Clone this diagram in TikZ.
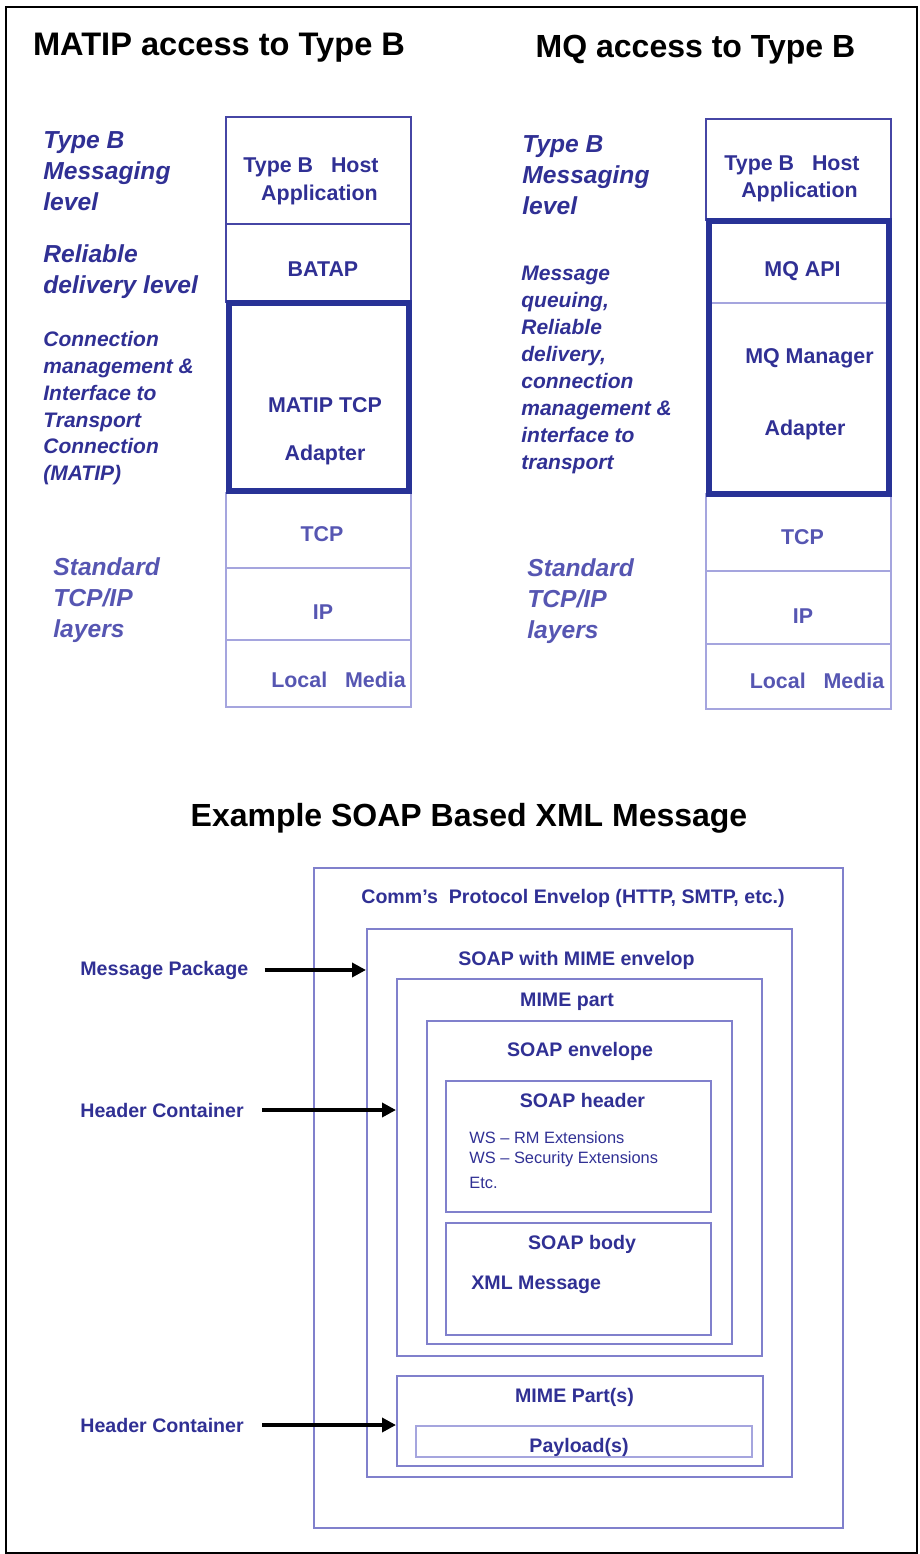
\documentclass[tikz,border=0pt]{standalone}
\usepackage{fontspec}
\setmainfont{Liberation Sans}
\usetikzlibrary{positioning,fit,arrows.meta}

\definecolor{inkblue}{RGB}{48,48,148}
\definecolor{paleblue}{RGB}{86,86,178}
\definecolor{midline}{RGB}{70,70,165}
\definecolor{rule}{RGB}{128,128,204}
\definecolor{faint}{RGB}{165,165,222}
\definecolor{deepblue}{RGB}{40,50,150}

\begin{document}
\begin{tikzpicture}[x=0.5pt, y=-0.5pt,
  heading/.style={font=\fontsize{16}{19}\selectfont\bfseries, anchor=base, inner sep=0pt},
  tag/.style={font=\fontsize{12.3}{15.5}\selectfont\bfseries\itshape, text=inkblue,
    align=left, anchor=north west, inner sep=0pt},
  smalltag/.style={tag, font=\fontsize{10.5}{13.4}\selectfont\bfseries\itshape},
  stdtag/.style={tag, text=paleblue},
  upper/.style={draw=midline, line width=1pt, inner sep=0pt},
  lower/.style={draw=faint, line width=0.8pt, inner sep=0pt},
  thick/.style={draw=deepblue, line width=3pt, inner sep=0pt},
  cell/.style={font=\fontsize{10.7}{12.8}\selectfont\bfseries, text=inkblue,
    anchor=base, inner sep=0pt},
  lowcell/.style={cell, text=paleblue},
  env/.style={draw=rule, line width=1pt, inner sep=0pt},
  envtxt/.style={font=\fontsize{9.8}{11.8}\selectfont\bfseries, text=inkblue,
    anchor=base, inner sep=0pt},
  note/.style={font=\fontsize{8.2}{10}\selectfont, text=inkblue, anchor=base west, inner sep=0pt},
  pointer/.style={envtxt, anchor=base west},
  arr/.style={-{Triangle[length=7pt,width=7pt]}, line width=2pt, black}]

  \useasboundingbox (0,0) rectangle (920,1554);
  \draw[line width=1.25pt] (6,7) rectangle (917,1553);

  % headings
  \node[heading, font=\fontsize{16.3}{19}\selectfont\bfseries] (matiptitle) at (219,55) {MATIP access to Type B};
  \node[heading] (mqtitle) at (695.5,57) {MQ access to Type B};
  \node[heading] (soaptitle) at (469,826) {Example SOAP Based XML Message};

  % MATIP stack
  \node[upper, fit={(226,117) (411,224)}] (lhost) {};
  \node[upper, fit={(226,224) (411,302)}] (lbatap) {};
  \node[lower, fit={(226,493) (411,568)}] (ltcp) {};
  \node[lower, fit={(226,568) (411,640)}] (lip) {};
  \node[lower, fit={(226,640) (411,707)}] (lmedia) {};
  \node[thick, fit={(229,303) (409,491)}] (ladapter) {};

  \node[cell] (lhostA) at (311,172) {Type B\ \ \ Host};
  \node[cell] (lhostB) at (319.5,200) {Application};
  \node[cell] (lbatapT) at (323,276) {BATAP};
  \node[cell] (ladapterA) at (325,412) {MATIP TCP};
  \node[cell] (ladapterB) at (325,460) {Adapter};
  \node[lowcell] (ltcpT) at (322,541) {TCP};
  \node[lowcell] (lipT) at (323,619) {IP};
  \node[lowcell] (lmediaT) at (338.5,687) {Local\ \ \ Media};

  \node[tag] (lmsg) at (43,131) {Type B\\Messaging\\level};
  \node[tag] (lrel) at (43,244) {Reliable\\delivery level};
  \node[smalltag] (lconn) at (43,331)
    {Connection\\management \&\\Interface to\\Transport\\Connection\\(MATIP)};
  \node[stdtag] (lstd) at (53,557) {Standard\\TCP/IP\\layers};

  % MQ stack
  \node[upper, fit={(706,119) (891,220)}] (rhost) {};
  \node[lower, fit={(709,221) (889,303)}] (rapi) {};
  \node[lower, fit={(706,494) (891,571)}] (rtcp) {};
  \node[lower, fit={(706,571) (891,644)}] (rip) {};
  \node[lower, fit={(706,644) (891,709)}] (rmedia) {};
  \node[thick, fit={(709,221) (889,494)}] (rmanager) {};

  \node[cell] (rhostA) at (792,170) {Type B\ \ \ Host};
  \node[cell] (rhostB) at (799.5,197) {Application};
  \node[cell] (rapiT) at (802.5,276) {MQ API};
  \node[cell] (rmanagerA) at (809.5,363) {MQ Manager};
  \node[cell] (rmanagerB) at (805,435) {Adapter};
  \node[lowcell] (rtcpT) at (802.5,544) {TCP};
  \node[lowcell] (ripT) at (803,623) {IP};
  \node[lowcell] (rmediaT) at (817,688) {Local\ \ \ Media};

  \node[tag] (rmsg) at (522,135) {Type B\\Messaging\\level};
  \node[smalltag, font=\fontsize{10.5}{13.5}\selectfont\bfseries\itshape] (rqueue) at (521,266)
    {Message\\queuing,\\Reliable\\delivery,\\connection\\management \&\\interface to\\transport};
  \node[stdtag] (rstd) at (527,558) {Standard\\TCP/IP\\layers};

  % nested SOAP envelopes
  \node[env, fit={(314,868) (843,1528)}] (comm) {};
  \node[env, fit={(367,929) (792,1477)}] (soapmime) {};
  \node[env, fit={(397,979) (762,1356)}] (mimepart) {};
  \node[env, fit={(427,1021) (732,1344)}] (soapenv) {};
  \node[env, fit={(446,1081) (711,1212)}] (soaphdr) {};
  \node[env, fit={(446,1223) (711,1335)}] (soapbody) {};
  \node[env, fit={(397,1376) (763,1466)}] (mimeparts) {};
  \node[env, draw=faint, fit={(416,1426) (752,1457)}] (payload) {};

  \node[envtxt] (commT) at (573,903) {Comm’s\ \ Protocol Envelop (HTTP, SMTP, etc.)};
  \node[envtxt] (soapmimeT) at (576.5,965) {SOAP with MIME envelop};
  \node[envtxt] (mimepartT) at (567,1006) {MIME part};
  \node[envtxt] (soapenvT) at (580,1056) {SOAP envelope};
  \node[envtxt] (soaphdrT) at (582.5,1107) {SOAP header};
  \node[note] (wsrm) at (469,1143) {WS – RM Extensions};
  \node[note] (wssec) at (469,1163) {WS – Security Extensions};
  \node[note] (wsetc) at (469,1188) {Etc.};
  \node[envtxt] (soapbodyT) at (582,1249) {SOAP body};
  \node[envtxt, anchor=base west] (xmlmsg) at (471,1289) {XML Message};
  \node[envtxt] (mimepartsT) at (574.5,1402) {MIME Part(s)};
  \node[envtxt] (payloadT) at (579,1452) {Payload(s)};

  % pointers into the envelopes
  \node[pointer] (msgpkg) at (80,975) {Message Package};
  \node[pointer] (hdrone) at (80,1117) {Header Container};
  \node[pointer] (hdrtwo) at (80,1432) {Header Container};

  \draw[arr] ([xshift=8pt]msgpkg.east) -- (msgpkg.east -| soapmime.west);
  \draw[arr] ([xshift=9pt]hdrone.east) -- (hdrone.east -| mimepart.west);
  \draw[arr] ([xshift=9pt]hdrtwo.east) -- (hdrtwo.east -| mimeparts.west);
\end{tikzpicture}
\end{document}
